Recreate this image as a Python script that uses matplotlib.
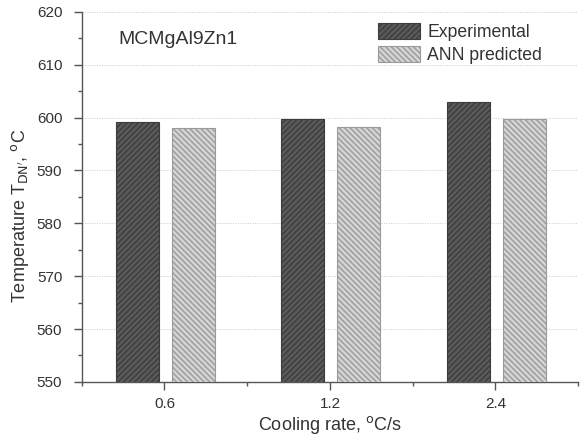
import numpy as np
import matplotlib.pyplot as plt
from matplotlib.ticker import MultipleLocator

plt.rcParams['font.family'] = ['Liberation Sans', 'DejaVu Sans']
plt.rcParams['hatch.linewidth'] = 1.0

cooling_rates = ['0.6', '1.2', '2.4']
experimental = [599.1, 599.7, 603.0]
ann_predicted = [598.0, 598.2, 599.8]

text_col = '#333333'
axis_col = '#555555'

fig = plt.figure(figsize=(5.84, 4.38), dpi=100)
ax = fig.add_axes([0.140, 0.128, 0.850, 0.845])

x = np.arange(len(cooling_rates))
w = 0.26
ax.bar(x - 0.165, experimental, w, color='#5a5a5a', edgecolor='#3c3c3c',
       hatch='//////', linewidth=0.8, label='Experimental', zorder=3)
ax.bar(x + 0.175, ann_predicted, w, color='#d4d4d4', edgecolor='#9a9a9a',
       hatch='\\\\\\\\\\\\', linewidth=0.8, label='ANN predicted', zorder=3)

ax.set_xlim(-0.5, 2.5)
ax.set_ylim(550, 620)
ax.set_xticks(x)
ax.set_xticklabels(cooling_rates)
ax.xaxis.set_minor_locator(MultipleLocator(0.5))
ax.yaxis.set_major_locator(MultipleLocator(10))
ax.yaxis.set_minor_locator(MultipleLocator(5))

ax.yaxis.grid(True, linestyle=(0, (1, 1.5)), color='#cccccc', linewidth=0.7, zorder=0)
ax.set_axisbelow(True)

for s in ['top', 'right']:
    ax.spines[s].set_visible(False)
for s in ['left', 'bottom']:
    ax.spines[s].set_color(axis_col)
    ax.spines[s].set_linewidth(1.0)

ax.tick_params(which='major', direction='out', length=6, width=1.0,
               color=axis_col, labelcolor=text_col, labelsize=11)
ax.tick_params(axis='y', which='major', pad=8)
ax.tick_params(axis='x', which='major', pad=5)
ax.tick_params(which='minor', direction='out', length=3, width=1.0, color=axis_col)

ax.set_xlabel('Cooling rate, $^{\\rm o}$C/s', fontsize=13, color=text_col, labelpad=2)
ax.set_ylabel("Temperature T$_{\\rm DN'}$, $^{\\rm o}$C", fontsize=13, color=text_col)
ax.yaxis.set_label_coords(-0.103, 0.45)

ax.text(0.073, 0.925, 'MCMgAl9Zn1', transform=ax.transAxes, fontsize=14,
        color=text_col, va='center', ha='left')

leg = ax.legend(loc='upper left', bbox_to_anchor=(0.565, 1.012), frameon=False,
                fontsize=12.7, handlelength=2.4, handleheight=1.0,
                labelspacing=0.3, handletextpad=0.4)
for t in leg.get_texts():
    t.set_color(text_col)

fig.savefig('out.png', dpi=100)
